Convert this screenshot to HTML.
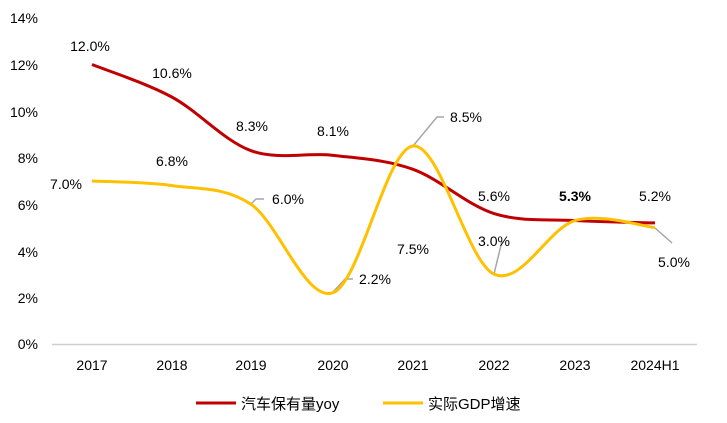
<!DOCTYPE html>
<html><head><meta charset="utf-8"><style>
html,body{margin:0;padding:0;background:#fff;}
svg{display:block;font-family:"Liberation Sans","Noto Sans CJK SC",sans-serif;}
</style></head><body>
<svg id="s" width="727" height="423" viewBox="0 0 727 423" xmlns="http://www.w3.org/2000/svg">
<line x1="52" y1="344.5" x2="697" y2="344.5" stroke="#d0d0d0" stroke-width="1.5"/>
<g font-size="14" fill="#000" text-anchor="end">
<text x="38" y="23">14%</text><text x="38" y="70">12%</text><text x="38" y="117">10%</text>
<text x="38" y="163">8%</text><text x="38" y="210">6%</text><text x="38" y="257">4%</text>
<text x="38" y="303">2%</text><text x="38" y="349">0%</text>
</g>
<g font-size="14" fill="#000" text-anchor="middle">
<text x="92" y="370">2017</text><text x="172" y="370">2018</text><text x="251" y="370">2019</text>
<text x="333" y="370">2020</text><text x="413" y="370">2021</text><text x="494" y="370">2022</text>
<text x="575" y="370">2023</text><text x="655" y="370">2024H1</text>
</g>
<g stroke="#a6a6a6" stroke-width="1.5" fill="none">
<polyline points="251,204 256,199 264,199"/>
<polyline points="333,292 345,279 353,279"/>
<polyline points="413,146 437,117 444,117"/>
<polyline points="494,274 502,241"/>
<polyline points="655,228 672,243"/>
</g>
<path id="r" fill="none" stroke="#C00000" stroke-width="3"/>
<path id="y" fill="none" stroke="#FFC000" stroke-width="3"/>
<g font-size="14" fill="#000" text-anchor="middle">
<text x="90" y="51">12.0%</text><text x="172" y="78">10.6%</text><text x="252" y="131">8.3%</text>
<text x="333" y="136">8.1%</text><text x="413" y="254">7.5%</text><text x="494" y="201">5.6%</text>
<text x="575" y="201" font-weight="bold">5.3%</text><text x="655" y="201">5.2%</text>
<text x="66" y="189">7.0%</text><text x="172" y="166">6.8%</text><text x="288" y="204">6.0%</text>
<text x="375" y="284">2.2%</text><text x="466" y="122">8.5%</text><text x="494" y="246">3.0%</text>
<text x="674" y="267">5.0%</text>
</g>
<line x1="196" y1="403" x2="236" y2="403" stroke="#C00000" stroke-width="3"/>
<text x="241" y="409" font-size="15">汽车保有量yoy</text>
<line x1="383" y1="403" x2="423" y2="403" stroke="#FFC000" stroke-width="3"/>
<text x="428" y="409" font-size="15">实际GDP增速</text>
</svg>
<script>
var xs=[92,172,251,333,413,494,575,655];
function Y(v){return 344-v*23.29;}
function path(vals){
 var p=xs.map(function(x,i){return [x,Y(vals[i])];});
 var d="M"+p[0][0]+","+p[0][1];
 for(var i=0;i<p.length-1;i++){
  var p0=p[i-1]||p[i],p1=p[i],p2=p[i+1],p3=p[i+2]||p[i+1];
  var t=6;
  d+=" C"+(p1[0]+(p2[0]-p0[0])/t)+","+(p1[1]+(p2[1]-p0[1])/t)+" "+(p2[0]-(p3[0]-p1[0])/t)+","+(p2[1]-(p3[1]-p1[1])/t)+" "+p2[0]+","+p2[1];
 }
 return d;
}
document.getElementById("r").setAttribute("d",path([12,10.6,8.3,8.1,7.5,5.6,5.3,5.2]));
document.getElementById("y").setAttribute("d",path([7,6.8,6,2.2,8.5,3,5.3,5]));
</script>
</body></html>
